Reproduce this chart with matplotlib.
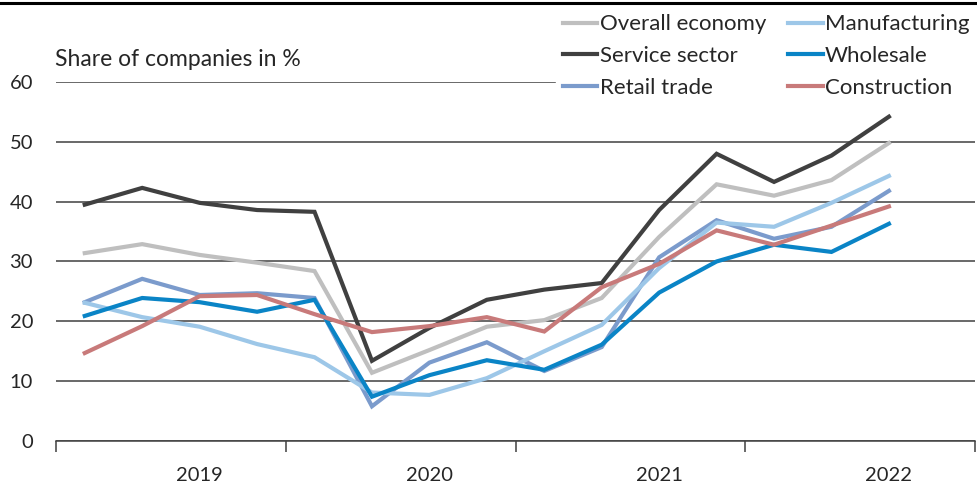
import numpy as np
import matplotlib
matplotlib.use("Agg")
from matplotlib import pyplot as plt
from matplotlib.lines import Line2D

# quarterly values, 2019 Q1 .. 2022 Q3
quarters = ["2019Q1", "2019Q2", "2019Q3", "2019Q4",
            "2020Q1", "2020Q2", "2020Q3", "2020Q4",
            "2021Q1", "2021Q2", "2021Q3", "2021Q4",
            "2022Q1", "2022Q2", "2022Q3"]
years = ["2019", "2020", "2021", "2022"]

overall = [31.4, 32.9, 31.1, 29.8, 28.4, 11.4, 15.2, 19.1, 20.2, 23.9, 34.1, 42.9, 41.0, 43.6, 49.8]
service = [39.5, 42.3, 39.8, 38.6, 38.3, 13.4, 18.9, 23.6, 25.3, 26.4, 38.6, 48.0, 43.3, 47.7, 54.2]
retail = [23.2, 27.1, 24.4, 24.7, 23.9, 5.8, 13.1, 16.5, 11.7, 15.7, 30.7, 36.9, 33.8, 35.8, 41.8]
manufacturing = [23.1, 20.7, 19.1, 16.2, 14.0, 8.1, 7.7, 10.5, 15.0, 19.4, 28.9, 36.5, 35.8, 39.8, 44.3]
wholesale = [20.9, 23.9, 23.2, 21.6, 23.6, 7.4, 11.0, 13.5, 11.9, 16.1, 24.8, 30.0, 32.8, 31.6, 36.3]
construction = [14.7, 19.2, 24.2, 24.4, 21.2, 18.2, 19.2, 20.7, 18.3, 25.7, 29.6, 35.2, 32.8, 36.0, 39.2]

series = [
    ("Overall economy", overall, "#bfbfbf"),
    ("Service sector", service, "#404040"),
    ("Retail trade", retail, "#7b9bcc"),
    ("Manufacturing", manufacturing, "#9dc7e8"),
    ("Wholesale", wholesale, "#0a84c6"),
    ("Construction", construction, "#c87a7a"),
]

plt.rcParams['font.family'] = ['Lato', 'DejaVu Sans']

fig = plt.figure(figsize=(9.78, 4.86), dpi=100)
ax = fig.add_axes([0.0573, 0.0926, 0.9397, 0.7387])

x = np.arange(len(quarters))
for name, vals, col in series:
    ax.plot(x, vals, color=col, lw=3.0, label=name, solid_joinstyle='miter')

ax.set_ylim(0, 60)
ax.set_xlim(-0.5, len(quarters) + 0.5)
ax.set_yticks(np.arange(0, 61, 10))
ax.yaxis.grid(True, color="#404040", lw=1.1)
ax.set_axisbelow(True)
ax.tick_params(axis='y', length=0, labelsize=14.5, colors="#262626", pad=16.5)

# year boundaries as ticks, year labels under the third quarter
bounds = np.arange(-0.5, len(quarters) + 1, 4)
ax.set_xticks(bounds)
ax.set_xticklabels([])
ax.set_xticks(np.arange(2, len(quarters), 4), minor=True)
ax.set_xticklabels(years, minor=True)
ax.tick_params(axis='x', which='major', length=8, width=1.1, color="#404040")
ax.tick_params(axis='x', which='minor', length=0, labelsize=14.5, pad=19, colors="#262626")

for s in ["top", "right", "left"]:
    ax.spines[s].set_visible(False)
ax.spines["bottom"].set_color("#404040")
ax.spines["bottom"].set_linewidth(1.1)

fig.text(0.056, 0.864, "Share of companies in %", fontsize=16.5, color="#262626")

leg = ax.legend(ncol=2, loc="upper right", bbox_to_anchor=(0.998, 0.984),
                bbox_transform=fig.transFigure, frameon=True, fontsize=16,
                handlelength=1.55, handletextpad=0.1, columnspacing=1.0,
                labelspacing=0.53, borderpad=0.3, borderaxespad=0.0)
leg.get_frame().set_facecolor("white")
leg.get_frame().set_edgecolor("white")
leg.get_frame().set_alpha(1)
leg.get_frame().set_boxstyle("square", pad=0)
for t in leg.get_texts():
    t.set_color("#262626")

fig.add_artist(Line2D([0, 1], [0.994, 0.994], transform=fig.transFigure, color="black", lw=2.2))

fig.savefig("out.png", dpi=100)
